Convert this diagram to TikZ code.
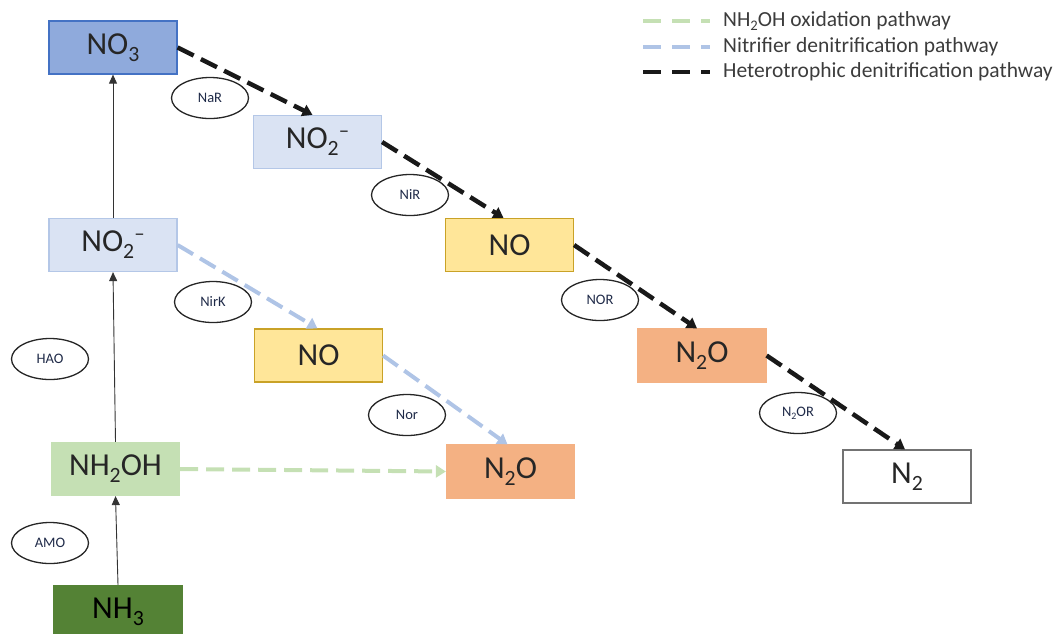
\documentclass[tikz,border=0pt]{standalone}
\usepackage{fontspec}
\setmainfont{Carlito}
\usepackage{graphicx}
\usetikzlibrary{arrows.meta,shapes.geometric}
\definecolor{no3fill}{HTML}{8FAADC}
\definecolor{no3line}{HTML}{4472C4}
\definecolor{no2fill}{HTML}{DAE3F3}
\definecolor{no2line}{HTML}{B4C7E7}
\definecolor{nofill}{HTML}{FFE699}
\definecolor{noline}{HTML}{C9A227}
\definecolor{n2ofill}{HTML}{F4B183}
\definecolor{nhofill}{HTML}{C5E0B4}
\definecolor{nh3fill}{HTML}{548235}
\definecolor{nav}{HTML}{1F2A48}
\definecolor{txt}{HTML}{262626}
\definecolor{blueway}{HTML}{AFC4E6}
\definecolor{greenway}{HTML}{C5E0B4}
\newcommand\lo[1]{\raisebox{-0.22em}{\scalebox{0.68}{#1}}}
\newcommand\hi[1]{\raisebox{0.35em}{\scalebox{0.65}{#1}}}
\tikzset{
  box/.style={draw, line width=1.2pt, minimum width=128pt, minimum height=53pt,
    inner sep=0pt, font=\fontsize{32}{32}\selectfont, text=txt},
  enz/.style={ellipse, draw=black!85, line width=1.3pt, minimum width=77pt,
    minimum height=41pt, inner sep=0pt, font=\fontsize{14.5}{15}\selectfont, text=nav},
  hetero/.style={draw=black!90, line width=4.5pt, dash pattern=on 18pt off 8pt,
    -{Triangle[length=10pt,width=12pt]}},
  nitri/.style={draw=blueway, line width=4pt, dash pattern=on 18pt off 8pt,
    -{Triangle[length=10pt,width=12pt]}},
  oxid/.style={draw=greenway, line width=4pt, dash pattern=on 18pt off 8pt,
    -{Triangle[length=10pt,width=12pt]}},
  thinarrow/.style={draw=black!80, line width=0.9pt, -{Triangle[length=9pt,width=8pt]}},
  legline/.style={line width=4pt, dash pattern=on 18pt off 11pt},
  legtext/.style={anchor=west, inner sep=0pt, font=\fontsize{21.5}{22}\selectfont, text=txt!90},
}
\begin{document}
\begin{tikzpicture}[x=1pt,y=-1pt]
\useasboundingbox (0,0) rectangle (1060,633);
% boxes
\node[box, fill=no3fill, draw=no3line] (no3) at (113,47.5) {NO\lo{3}};
\node[box, fill=no2fill, draw=no2line] (no2a) at (317.5,142) {NO\lo{2}\hi{–}};
\node[box, fill=no2fill, draw=no2line] (no2b) at (113,245) {NO\lo{2}\hi{–}};
\node[box, fill=nofill, draw=noline] (noa) at (509.5,245) {NO};
\node[box, fill=nofill, draw=noline] (nob) at (318.5,355.5) {NO};
\node[box, fill=n2ofill, draw=n2ofill] (n2oa) at (702,355.5) {N\lo{2}O};
\node[box, fill=n2ofill, draw=n2ofill] (n2ob) at (510.5,471.5) {N\lo{2}O};
\node[box, fill=nhofill, draw=nhofill] (nh2oh) at (115.5,469) {NH\lo{2}OH};
\node[box, fill=nh3fill, draw=nh3fill, text=black] (nh3) at (118,612) {NH\lo{3}};
\node[box, fill=white, draw=black!55] (n2) at (907,476.5) {N\lo{2}};
% enzymes
\node[enz] (nar) at (210,98) {NaR};
\node[enz] (nir) at (410,195) {NiR};
\node[enz] (nirk) at (213,302) {NirK};
\node[enz] (hao) at (50,359) {HAO};
\node[enz] (nor) at (600,300) {NOR};
\node[enz] (norb) at (407,415) {Nor};
\node[enz] (n2or) at (798,413) {N\lo{2}OR};
\node[enz] (amo) at (50,543) {AMO};
% heterotrophic pathway
\draw[hetero] (no3.east) -- ([xshift=-5pt]no2a.north);
\draw[hetero] (no2a.east) -- ([xshift=-6pt]noa.north);
\draw[hetero] (noa.east) -- ([xshift=-5pt]n2oa.north);
\draw[hetero] (n2oa.east) -- ([xshift=-2pt]n2.north);
% nitrifier denitrification
\draw[nitri] (no2b.east) -- ([xshift=-1pt]nob.north);
\draw[nitri] (nob.east) -- ([xshift=-3pt]n2ob.north);
% NH2OH oxidation
\draw[oxid] (nh2oh.east) -- (n2ob.west);
% nitrification
\draw[thinarrow] (nh3.north) -- (nh2oh.south);
\draw[thinarrow] (nh2oh.north) -- (no2b.south);
\draw[thinarrow] (no2b.north) -- (no3.south);
% legend
\draw[legline, draw=greenway] (643,21) -- (710,21);
\draw[legline, draw=blueway] (643,47) -- (710,47);
\draw[legline, draw=black!90] (643,72) -- (710,72);
\node[legtext] (lg1) at (723,21) {NH\lo{2}OH oxidation pathway};
\node[legtext] (lg2) at (723,47) {Nitrifier denitrification pathway};
\node[legtext] (lg3) at (723,72) {Heterotrophic denitrification pathway};
\end{tikzpicture}
\end{document}
